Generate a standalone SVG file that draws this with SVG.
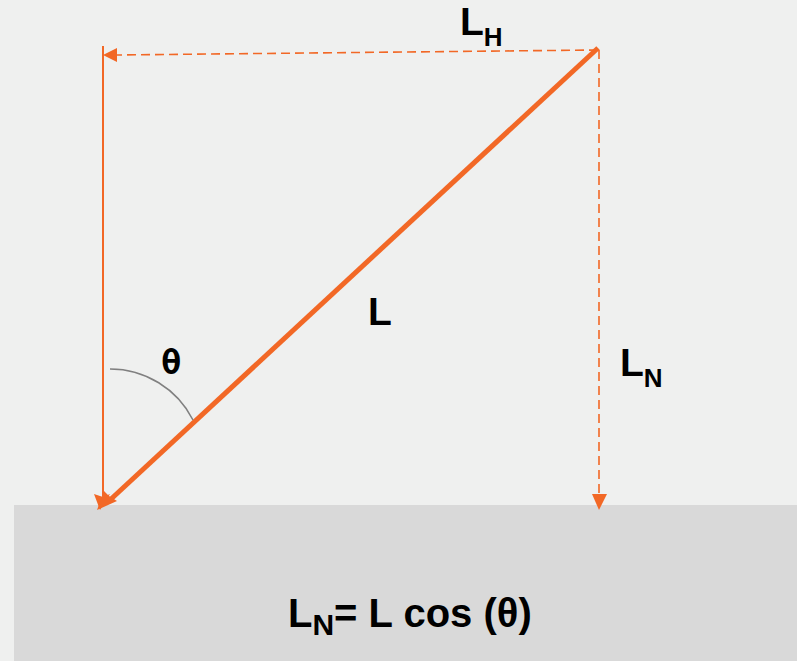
<svg xmlns="http://www.w3.org/2000/svg" width="797" height="661" viewBox="0 0 797 661">
<style>
.lbl{font-family:"Liberation Sans",Arial,sans-serif;font-weight:bold;fill:#000;}
.solid{stroke:#f26826;fill:none;}
.dash{stroke:#f26826;fill:none;stroke-width:1.6;stroke-dasharray:9,5;}
.head{fill:#f26826;}
</style>
<rect x="0" y="0" width="797" height="661" fill="#eff0ef"/>
<rect id="ground" x="14" y="505" width="783" height="156" fill="#d9d9d9"/>
<g id="connectors">
  <line class="solid" x1="103" y1="46" x2="103" y2="496" stroke-width="2"/>
  <polygon class="head" points="100,510 94,494 103,497 110,494"/>
  <line class="dash" x1="598" y1="50" x2="115" y2="55"/>
  <polygon class="head" points="103,55 117,48 117,62"/>
  <line class="dash" x1="599" y1="50" x2="599" y2="496"/>
  <polygon class="head" points="599,510 592,494 607,494"/>
  <line class="solid" x1="598" y1="48" x2="110" y2="500" stroke-width="5"/>
  <polygon class="head" points="97,510 104,491 109,496 117,501"/>
  <path d="M110,369 A93,93 0 0 1 193,420" fill="none" stroke="#808080" stroke-width="1.5"/>
</g>
<g id="label-LH"><text class="lbl" x="460" y="35" font-size="39">L<tspan font-size="26" dy="11">H</tspan></text></g>
<g id="label-L"><text class="lbl" x="368" y="325" font-size="39">L</text></g>
<g id="label-LN"><text class="lbl" x="620" y="376" font-size="39">L<tspan font-size="26" dy="11">N</tspan></text></g>
<g id="label-theta"><text x="161" y="374" font-size="34" font-family="'DejaVu Sans Mono',monospace" font-weight="bold" fill="#000">θ</text></g>
<g id="formula"><text class="lbl" x="288" y="627" font-size="40">L<tspan font-size="30" dy="8">N</tspan><tspan dy="-8">= L cos (θ)</tspan></text></g>
</svg>
